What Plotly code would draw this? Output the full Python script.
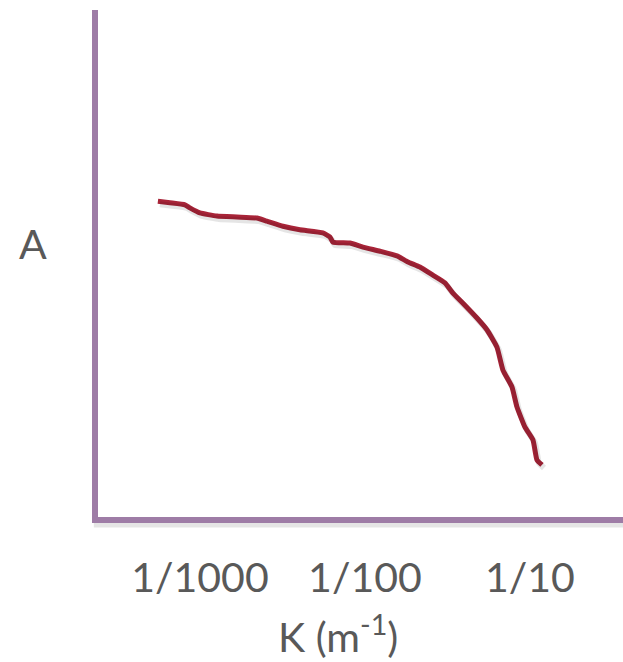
import plotly.graph_objects as go

# Wavenumber K (1/m) and amplitude A (arbitrary units) along the sketched curve
k_values = [0.000556, 0.000658, 0.000811, 0.000869, 0.001, 0.001268, 0.001676,
            0.002215, 0.002545, 0.003184, 0.004034, 0.005559, 0.006135, 0.006393,
            0.00811, 0.009726, 0.012335, 0.01563, 0.01823, 0.02154, 0.02582,
            0.03054, 0.03413, 0.03926, 0.04775, 0.05486, 0.0631, 0.06858,
            0.07779, 0.08336, 0.09326, 0.1043, 0.1102, 0.1183]
a_values = [62.5, 62.2, 61.8, 61.2, 60.2, 59.6, 59.4, 59.2, 58.6, 57.6, 56.9,
            56.3, 55.5, 54.5, 54.3, 53.5, 52.7, 51.8, 50.6, 49.6, 48.0, 46.5,
            44.5, 42.5, 39.6, 37.3, 33.9, 29.4, 26.1, 22.2, 18.2, 15.7, 11.8, 10.8]

tick_vals = [0.001, 0.01, 0.1]
tick_text = ["1/1000", "1/100", "1/10"]

TEXT = "#595959"
AXIS = "#9E7CA6"
CURVE = "#A82438"
FONT = "Lato"

x_range = [-3.618, -0.436]
y_range = [0.588, 100]
decade_px = 165.0
a_px = 5.1

fig = go.Figure()

# soft drop shadow: same curve on overlay axes shifted a few pixels
fig.add_trace(go.Scatter(
    x=k_values, y=a_values, mode="lines", xaxis="x2", yaxis="y2",
    line=dict(color="rgba(0,0,0,0.10)", width=6, shape="spline", smoothing=0.4),
    hoverinfo="skip", showlegend=False))

fig.add_trace(go.Scatter(
    x=k_values, y=a_values, mode="lines",
    line=dict(color=CURVE, width=5, shape="spline", smoothing=0.4),
    showlegend=False))

fig.update_layout(
    width=623, height=662,
    margin=dict(l=98, r=0, t=10, b=145),
    paper_bgcolor="white", plot_bgcolor="white",
    font=dict(family=FONT, color=TEXT),
    xaxis=dict(type="log", range=x_range, showgrid=False, zeroline=False,
               showline=True, linecolor=AXIS, linewidth=6,
               tickmode="array", tickvals=tick_vals, ticktext=tick_text,
               ticks="outside", ticklen=20, tickcolor="rgba(0,0,0,0)",
               tickfont=dict(family=FONT, size=41, color=TEXT)),
    yaxis=dict(range=y_range, showgrid=False, zeroline=False,
               showline=True, linecolor=AXIS, linewidth=6,
               showticklabels=False, ticks=""),
    xaxis2=dict(type="log", overlaying="x", visible=False,
                range=[x_range[0] - 2 / decade_px, x_range[1] - 2 / decade_px]),
    yaxis2=dict(overlaying="y", visible=False,
                range=[y_range[0] + 3 / a_px, y_range[1] + 3 / a_px]),
    shapes=[
        dict(type="line", xref="paper", yref="paper", x0=-0.008, x1=1,
             y0=-0.016, y1=-0.016, line=dict(color="rgba(0,0,0,0.10)", width=5),
             layer="below"),
    ],
    annotations=[
        dict(text="A", xref="paper", yref="paper", x=-0.1238, y=0.540,
             xanchor="center", yanchor="middle", showarrow=False,
             font=dict(family=FONT, size=41, color=TEXT)),
        dict(text="K (m<sup>-1</sup>)", xref="paper", yref="paper",
             x=0.457, y=-0.2310, xanchor="center", yanchor="middle",
             showarrow=False, font=dict(family=FONT, size=41, color=TEXT)),
    ],
)

fig.write_html("out.html")
